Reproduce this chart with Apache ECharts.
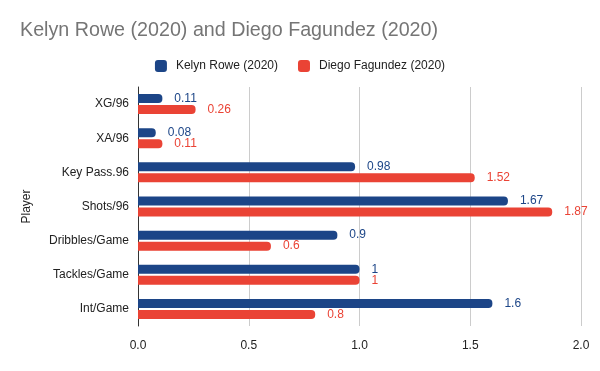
<!DOCTYPE html>
<html><head><meta charset="utf-8">
<script src="https://cdn.jsdelivr.net/npm/echarts@6/dist/echarts.min.js"></script>
<style>html,body{margin:0;padding:0;background:#fff}#c{width:600px;height:371px}</style>
</head><body><div id="c"></div>
<script>
const categories = ["XG/96", "XA/96", "Key Pass.96", "Shots/96", "Dribbles/Game", "Tackles/Game", "Int/Game"];
const kelynRowe = [0.11, 0.08, 0.98, 1.67, 0.9, 1, 1.6];
const diegoFagundez = [0.26, 0.11, 1.52, 1.87, 0.6, 1, 0.8];
const xTicks = [0, 0.5, 1.0, 1.5, 2.0];
const seriesNames = ["Kelyn Rowe (2020)", "Diego Fagundez (2020)"];
const colors = ["#1c4587", "#ea4335"];

const chart = echarts.init(document.getElementById('c'));
const font = 'Arial, "Liberation Sans", sans-serif';
function mk(name, data, color) {
  return {
    name, type: 'bar', data, barWidth: 9, barGap: '22%',
    itemStyle: { color, borderRadius: [0, 4, 4, 0] },
    label: { show: true, position: 'right', distance: 12, color, fontSize: 12, fontFamily: font },
    emphasis: { disabled: true }
  };
}
chart.setOption({
  animation: false,
  color: colors,
  title: { text: 'Kelyn Rowe (2020) and Diego Fagundez (2020)', left: 15, top: 16,
    textStyle: { color: '#757575', fontSize: 19.7, fontWeight: 'normal', fontFamily: font } },
  legend: { top: 55, left: 'center', itemWidth: 12, itemHeight: 12, itemGap: 20,
    icon: 'roundRect',
    textStyle: { color: '#222', fontSize: 12, fontFamily: font, padding: [0, 0, 0, 4] }, data: seriesNames },
  grid: { left: 138, right: 19, top: 87, bottom: 45 },
  xAxis: { type: 'value', min: xTicks[0], max: xTicks[xTicks.length - 1], interval: 0.5,
    axisLabel: { color: '#222', fontSize: 12, fontFamily: font, margin: 14,
      formatter: v => v.toFixed(1) },
    splitLine: { lineStyle: { color: '#ccc' } },
    axisLine: { show: false }, axisTick: { show: false } },
  yAxis: { type: 'category', data: categories, inverse: true,
    name: 'Player', nameLocation: 'middle', nameGap: 105, nameRotate: 90,
    nameTextStyle: { color: '#222', fontSize: 12, fontFamily: font },
    axisLabel: { color: '#222', fontSize: 12, fontFamily: font, margin: 9 },
    axisLine: { show: true, lineStyle: { color: '#333', width: 1 } },
    axisTick: { show: false }, splitLine: { show: false } },
  series: [mk(seriesNames[0], kelynRowe, colors[0]), mk(seriesNames[1], diegoFagundez, colors[1])]
});
</script></body></html>
